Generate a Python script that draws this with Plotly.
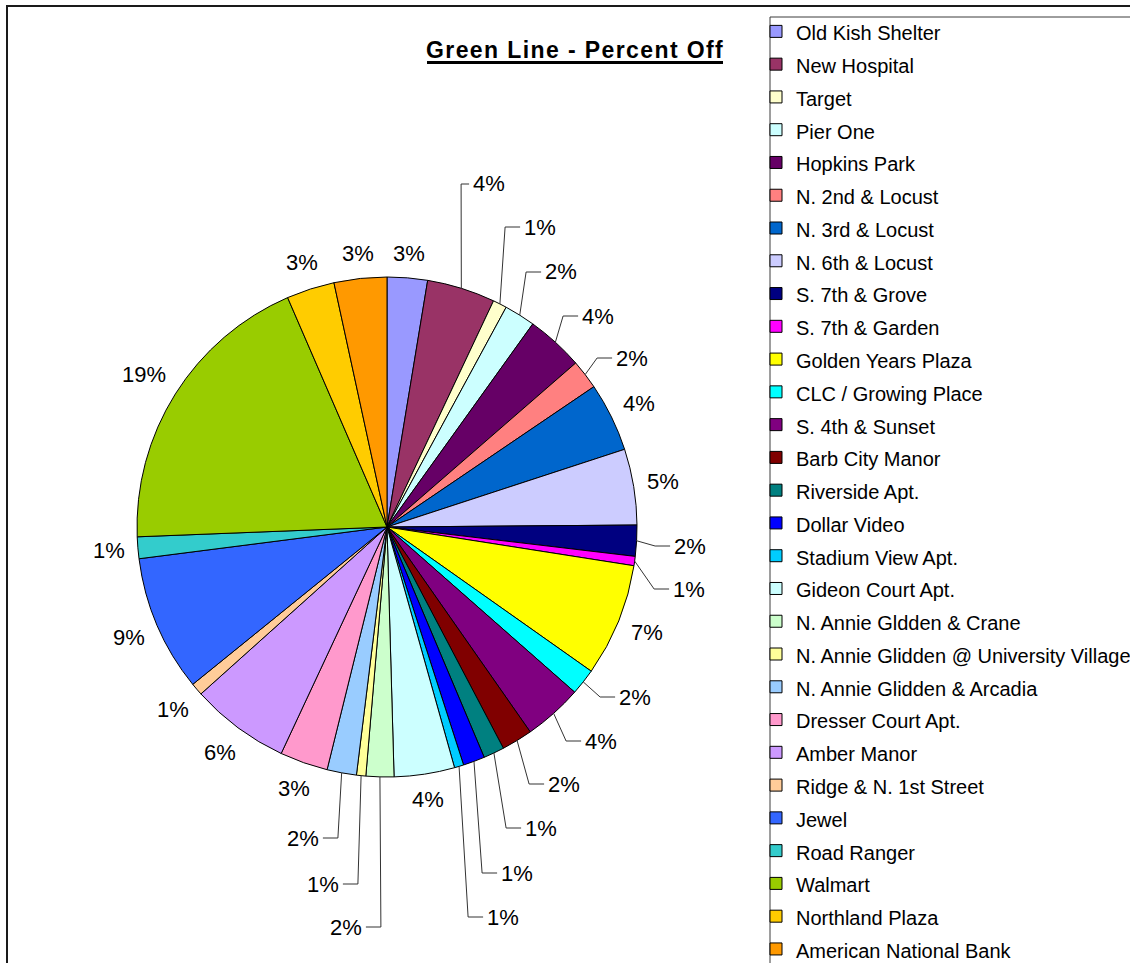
import math
import plotly.graph_objects as go

# ---- data -----------------------------------------------------------------
stops = [
    "Old Kish Shelter", "New Hospital", "Target", "Pier One", "Hopkins Park",
    "N. 2nd & Locust", "N. 3rd & Locust", "N. 6th & Locust", "S. 7th & Grove",
    "S. 7th & Garden", "Golden Years Plaza", "CLC / Growing Place",
    "S. 4th & Sunset", "Barb City Manor", "Riverside Apt.", "Dollar Video",
    "Stadium View Apt.", "Gideon Court Apt.", "N. Annie Gldden & Crane",
    "N. Annie Glidden @ University Village", "N. Annie Glidden & Arcadia",
    "Dresser Court Apt.", "Amber Manor", "Ridge & N. 1st Street", "Jewel",
    "Road Ranger", "Walmart", "Northland Plaza", "American National Bank",
]
share_off = [
    2.6, 4.4, 0.9, 2.0, 3.7,
    1.9, 4.45, 4.9, 2.0,
    0.6, 7.3, 1.7,
    3.8, 2.0, 1.35, 1.4,
    0.6, 3.9, 1.8,
    0.6, 1.9,
    3.1, 6.4, 0.8, 8.8,
    1.4, 19.1, 3.1, 3.4,
]
slice_colors = [
    "#9999FF", "#993366", "#FFFFCC", "#CCFFFF", "#660066",
    "#FF8080", "#0066CC", "#CCCCFF", "#000080",
    "#FF00FF", "#FFFF00", "#00FFFF",
    "#800080", "#800000", "#008080", "#0000FF",
    "#00CCFF", "#CCFFFF", "#CCFFCC",
    "#FFFF99", "#99CCFF",
    "#FF99CC", "#CC99FF", "#FFCC99", "#3366FF",
    "#33CCCC", "#99CC00", "#FFCC00", "#FF9900",
]

# ---- page geometry (pixels) ------------------------------------------------
W, H = 1130, 963
CX, CY, R = 387, 527, 250
LABEL_SIZE = 22
FONT = "Arial, Liberation Sans, sans-serif"

# labels dragged away from the pie, joined by a leader line:
# stop -> (label centre x, label centre y, length of the horizontal elbow)
moved_labels = {
    "New Hospital": (489, 184, 8),
    "Target": (540, 227, 15),
    "Pier One": (561, 272, 15),
    "Hopkins Park": (598, 316, 15),
    "N. 2nd & Locust": (632, 358, 15),
    "S. 7th & Grove": (690, 546, 15),
    "S. 7th & Garden": (689, 589, 15),
    "CLC / Growing Place": (635, 697, 15),
    "S. 4th & Sunset": (601, 741, 15),
    "Barb City Manor": (564, 784, 15),
    "Riverside Apt.": (541, 828, 15),
    "Dollar Video": (517, 873, 15),
    "Stadium View Apt.": (503, 917, 15),
    "N. Annie Gldden & Crane": (346, 927, 15),
    "N. Annie Glidden @ University Village": (323, 884, 15),
    "N. Annie Glidden & Arcadia": (303, 838, 15),
}


def fx(x):
    return x / W


def fy(y):
    return 1 - y / H


fig = go.Figure(
    go.Pie(
        labels=[f'<span style="font-size:20px">{s}</span>' for s in stops],
        values=share_off,
        sort=False,
        direction="clockwise",
        rotation=0,
        marker=dict(colors=slice_colors, line=dict(color="black", width=1)),
        textinfo="none",
        hoverinfo="percent",
        domain=dict(x=[fx(CX - R), fx(CX + R)], y=[fy(CY + R), fy(CY - R)]),
    )
)

annotations = []
shapes = []

# percentage labels, computed from the slice values
total = sum(share_off)
cum = 0.0
for name, v in zip(stops, share_off):
    frac = v / total
    mid = (cum + frac / 2) * 2 * math.pi
    cum += frac
    pct = int(frac * 100 + 0.5)
    text = f"{pct}%"
    w = (0.556 * len(str(pct)) + 0.889) * LABEL_SIZE
    h = LABEL_SIZE
    s, c = math.sin(mid), math.cos(mid)
    if name in moved_labels:
        lx, ly, elbow = moved_labels[name]
        ex, ey = CX + R * s, CY - R * c
        if lx > ex:
            hx1 = lx - w / 2 - 4
            hx0 = hx1 - elbow
        else:
            hx1 = lx + w / 2 + 4
            hx0 = hx1 + elbow
        shapes.append(dict(
            type="path", xref="paper", yref="paper",
            path=(f"M {fx(ex)},{fy(ey)} L {fx(hx0)},{fy(ly)} "
                  f"L {fx(hx1)},{fy(ly)}"),
            line=dict(color="#333333", width=1),
        ))
    else:
        dist = R + 12 + abs(w / 2 * s) + abs(h / 2 * c)
        lx, ly = CX + dist * s, CY - dist * c
    annotations.append(dict(
        x=fx(lx), y=fy(ly), xref="paper", yref="paper", text=text,
        showarrow=False, xanchor="center", yanchor="middle",
        font=dict(family=FONT, size=LABEL_SIZE, color="black"),
    ))

# chart title with its underline
annotations.append(dict(
    x=fx(575), y=fy(50), xref="paper", yref="paper",
    text='<b><span style="letter-spacing:1.4px">Green Line - Percent Off</span></b>',
    showarrow=False, xanchor="center", yanchor="middle",
    font=dict(family=FONT, size=23, color="black"),
))
shapes.append(dict(
    type="line", xref="paper", yref="paper",
    x0=fx(427), x1=fx(723), y0=fy(62.5), y1=fy(62.5),
    line=dict(color="black", width=3),
))

# chart-area frame
shapes.append(dict(
    type="rect", xref="paper", yref="paper",
    x0=fx(7), x1=fx(1140), y0=fy(6), y1=fy(975),
    line=dict(color="#1a1a1a", width=2), layer="below",
))
# legend box
shapes.append(dict(
    type="rect", xref="paper", yref="paper",
    x0=fx(770), x1=fx(1145), y0=fy(17), y1=fy(985),
    line=dict(color="#3c3c3c", width=1), fillcolor="white", layer="below",
))

fig.update_layout(
    width=W, height=H,
    margin=dict(l=0, r=0, t=0, b=0, autoexpand=False),
    paper_bgcolor="white",
    plot_bgcolor="white",
    showlegend=True,
    legend=dict(
        x=fx(756), y=fy(10), xanchor="left", yanchor="top",
        bgcolor="rgba(0,0,0,0)", borderwidth=0,
        font=dict(family=FONT, size=22.9, color="black"),
        itemwidth=30, traceorder="normal",
    ),
    annotations=annotations,
    shapes=shapes,
)

fig.write_html("out.html", config={"displayModeBar": False})
